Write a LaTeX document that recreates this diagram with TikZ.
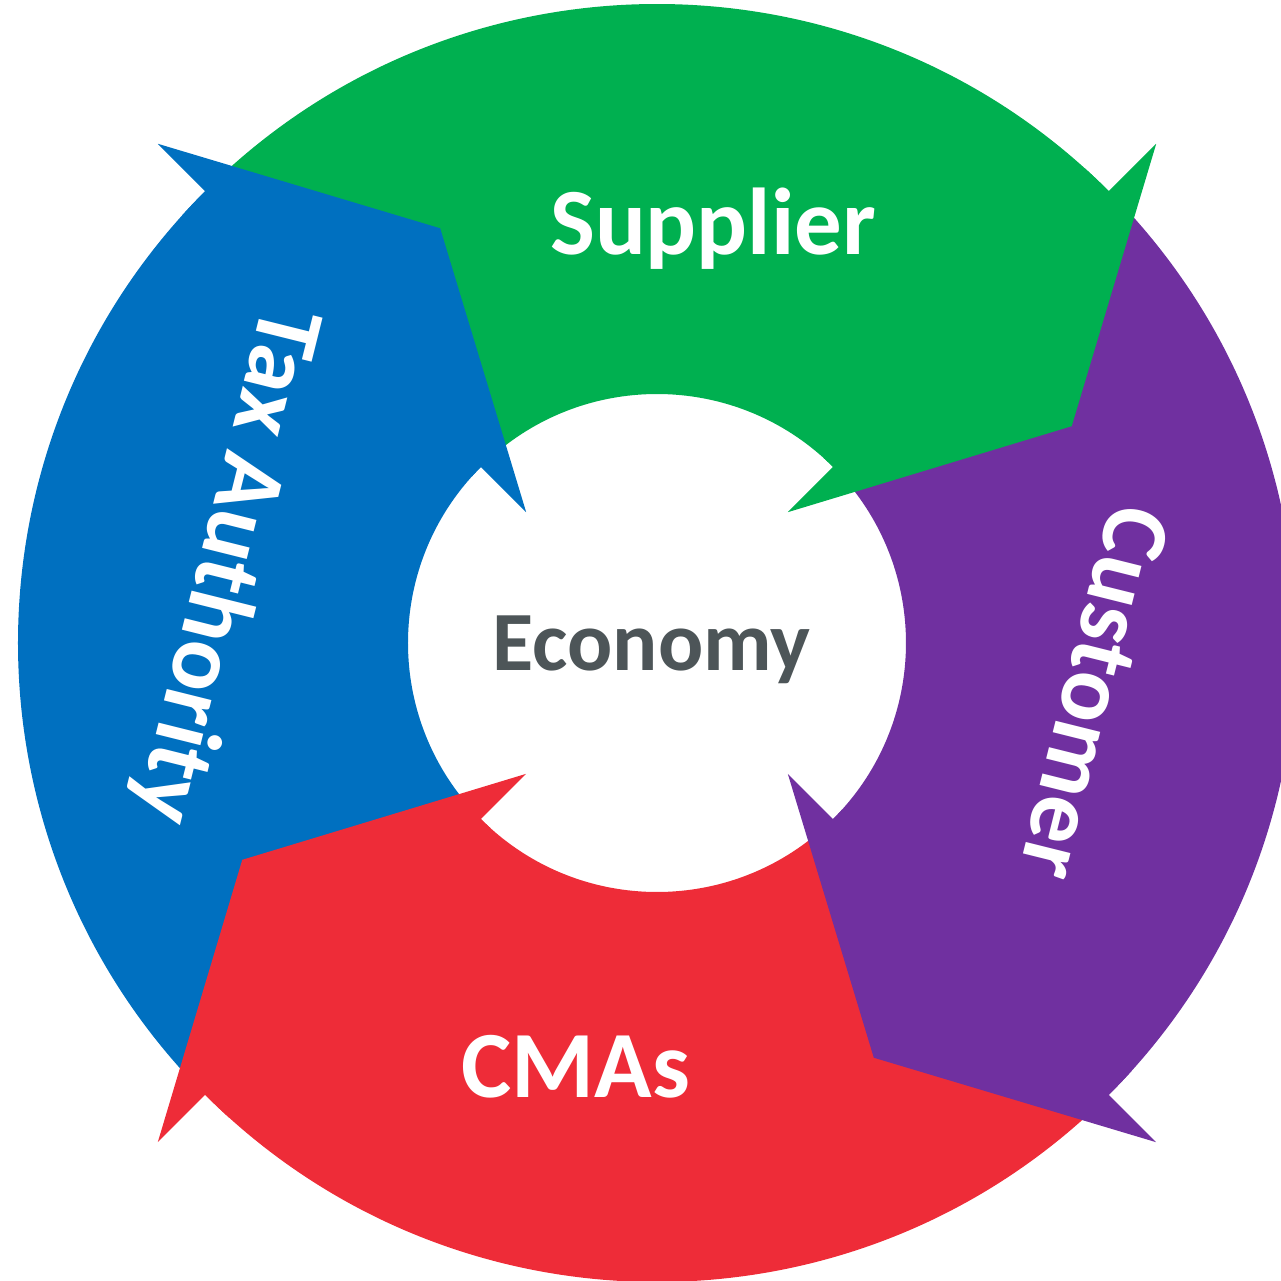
\documentclass[tikz,border=0pt]{standalone}
\usepackage{fontspec}
\setmainfont{Carlito}
\usepackage{tikz}
\usetikzlibrary{positioning}
\definecolor{supgreen}{HTML}{00B050}
\definecolor{custpurple}{HTML}{7030A0}
\definecolor{cmared}{HTML}{EE2C38}
\definecolor{taxblue}{HTML}{0070C0}
\definecolor{ecogray}{HTML}{4D5558}
\tikzstyle{ringlabel} = [font=\bfseries\fontsize{27}{32}\selectfont, text=white, inner sep=0pt]
\tikzstyle{hublabel} = [font=\bfseries\fontsize{24}{29}\selectfont, text=ecogray, inner sep=0pt]

\begin{document}
\begin{tikzpicture}
\useasboundingbox (-6.57,-6.38) rectangle (6.24,6.43);
% ring bodies
\fill[supgreen] (135:6.39) arc[start angle=135, end angle=45, radius=6.39] -- (45:2.49) arc[start angle=45, end angle=135, radius=2.49] -- cycle;
\fill[custpurple] (45:6.39) arc[start angle=45, end angle=-45, radius=6.39] -- (-45:2.49) arc[start angle=-45, end angle=45, radius=2.49] -- cycle;
\fill[cmared] (-45:6.39) arc[start angle=-45, end angle=-135, radius=6.39] -- (-135:2.49) arc[start angle=-135, end angle=-45, radius=2.49] -- cycle;
\fill[taxblue] (-135:6.39) arc[start angle=-135, end angle=-225, radius=6.39] -- (135:2.49) arc[start angle=135, end angle=225, radius=2.49] -- cycle;
% arrow heads (a little strip back into the own body, so no seam shows)
\fill[supgreen] (45:7.06) -- (27.6:4.68) -- (45:1.85) -- (45:2.49) arc[start angle=45, end angle=48, radius=2.49] -- (48:6.39) arc[start angle=48, end angle=45, radius=6.39] -- cycle;
\fill[custpurple] (-45:7.06) -- (-62.4:4.68) -- (-45:1.85) -- (-45:2.49) arc[start angle=-45, end angle=-42, radius=2.49] -- (-42:6.39) arc[start angle=-42, end angle=-45, radius=6.39] -- cycle;
\fill[cmared] (-135:7.06) -- (-152.4:4.68) -- (-135:1.85) -- (-135:2.49) arc[start angle=-135, end angle=-132, radius=2.49] -- (-132:6.39) arc[start angle=-132, end angle=-135, radius=6.39] -- cycle;
\fill[taxblue] (135:7.06) -- (117.6:4.68) -- (135:1.85) -- (135:2.49) arc[start angle=135, end angle=138, radius=2.49] -- (138:6.39) arc[start angle=138, end angle=135, radius=6.39] -- cycle;
% labels
\node (supplier) [ringlabel, anchor=base] at (0.56,3.88) {Supplier};
\node (customer) [ringlabel, rotate=-104] at (4.38,-0.50) {Customer};
\node (cmas) [ringlabel, anchor=base] at (-0.81,-4.54) {CMAs};
\node (tax) [ringlabel, rotate=-104] at (-4.32,0.78) {Tax Authority};
\node (economy) [hublabel, anchor=base] at (-0.055,-0.27) {Economy};
\end{tikzpicture}
\end{document}
